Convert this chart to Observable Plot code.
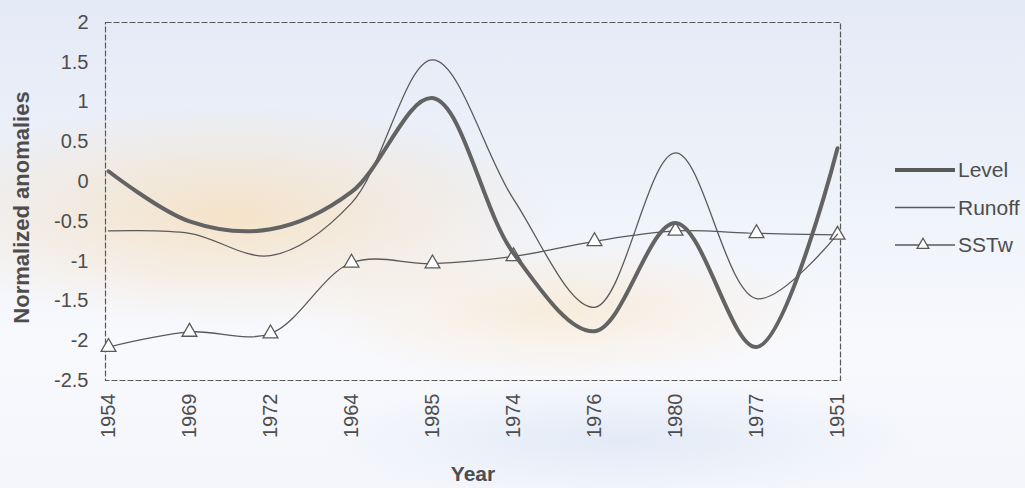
<!DOCTYPE html>
<html>
<head>
<meta charset="utf-8">
<script src="https://cdn.jsdelivr.net/npm/d3@7"></script>
<script src="https://cdn.jsdelivr.net/npm/@observablehq/plot@0.6"></script>
<style>
  html, body { margin: 0; padding: 0; background: #fff; }
  #wrap { position: relative; width: 1025px; height: 488px; overflow: hidden;
    background:
      radial-gradient(ellipse 330px 110px at 230px 215px, rgba(250,214,160,0.55), rgba(250,214,160,0) 100%),
      radial-gradient(ellipse 260px 70px at 560px 310px, rgba(250,222,180,0.45), rgba(250,222,180,0) 100%),
      radial-gradient(ellipse 300px 60px at 620px 440px, rgba(214,226,244,0.6), rgba(214,226,244,0) 100%),
      linear-gradient(180deg, #e4eaf6 0%, #eef2fa 40%, #f8f9fd 70%, #f4f6fb 100%);
  }
  #legend { position: absolute; left: 0; top: 0; }
</style>
</head>
<body>
<div id="wrap"></div>
<script>
const years  = ["1954","1969","1972","1964","1985","1974","1976","1980","1977","1951"];
const level  = [0.13, -0.50, -0.60, -0.13, 1.05, -0.90, -1.88, -0.52, -2.08, 0.42];
const runoff = [-0.62, -0.65, -0.93, -0.27, 1.53, -0.22, -1.58, 0.36, -1.47, -0.66];
const sstw   = [-2.08, -1.89, -1.91, -1.02, -1.03, -0.94, -0.75, -0.62, -0.65, -0.67];
const yTicks = [2, 1.5, 1, 0.5, 0, -0.5, -1, -1.5, -2, -2.5];
const seriesNames = ["Level", "Runoff", "SSTw"];

const rows = years.map((y, i) => ({year: y, level: level[i], runoff: runoff[i], sstw: sstw[i]}));
const ink = "#595959";
const narrow = "'Liberation Sans Narrow', 'Arial Narrow', 'Liberation Sans', Arial, sans-serif";
const regular = "'Liberation Sans', Arial, sans-serif";

const chart = Plot.plot({
  width: 1025,
  height: 488,
  marginLeft: 105,
  marginRight: 185,
  marginTop: 22,
  marginBottom: 108,
  style: {background: "transparent", fontFamily: regular, color: "#4d4d4d"},
  x: {type: "point", domain: years, padding: 0},
  y: {domain: [-2.5, 2]},
  marks: [
    Plot.frame({stroke: "#5a5a5a", strokeDasharray: "6,2", strokeWidth: 1.2}),
    Plot.axisY({ticks: yTicks, tickSize: 0, tickPadding: 17, fontSize: 20,
      tickFormat: d => String(d), label: "Normalized anomalies", labelAnchor: "center",
      labelArrow: "none", labelOffset: 92}),
    Plot.axisX({tickRotate: -90, tickSize: 0, tickPadding: 13, fontSize: 20,
      label: "Year", labelAnchor: "center", labelArrow: "none", labelOffset: 100}),
    Plot.line(rows, {x: "year", y: "sstw", stroke: ink, strokeWidth: 1.3, curve: "catmull-rom"}),
    Plot.dot(rows, {x: "year", y: "sstw", symbol: "triangle", r: 5.5, stroke: ink, strokeWidth: 1.3, fill: "#fff"}),
    Plot.line(rows, {x: "year", y: "runoff", stroke: ink, strokeWidth: 1.3, curve: "catmull-rom"}),
    Plot.line(rows, {x: "year", y: "level", stroke: "#636363", strokeWidth: 4, curve: "catmull-rom"})
  ]
});
document.getElementById("wrap").appendChild(chart);

const svg = d3.select(chart);
svg.selectAll('g[aria-label="y-axis tick label"] text, g[aria-label="x-axis tick label"] text')
  .style("font-family", narrow);
svg.selectAll('g[aria-label="y-axis label"] text')
  .style("font-weight", "bold").style("font-size", "22px").attr("dx", -6);
svg.selectAll('g[aria-label="x-axis label"] text')
  .style("font-weight", "bold").style("font-size", "21px");

// Legend
const lg = d3.select("#wrap").append("svg").attr("id", "legend").attr("width", 1025).attr("height", 488);
const items = lg.selectAll("g").data(seriesNames).join("g")
  .attr("transform", (d, i) => `translate(895, ${170 + i * 37.5})`);
items.append("line").attr("x1", 0).attr("x2", 60).attr("y1", 0).attr("y2", 0)
  .attr("stroke", ink).attr("stroke-width", (d, i) => i === 0 ? 4 : 1.3);
items.filter((d, i) => i === 2).append("path")
  .attr("d", d3.symbol(d3.symbolTriangle, 60)()).attr("transform", "translate(28,0)")
  .attr("fill", "#fff").attr("stroke", ink).attr("stroke-width", 1.3);
items.append("text").attr("x", 63).attr("y", 0).attr("dy", "0.35em")
  .attr("font-size", 21).attr("font-family", regular).attr("fill", "#4d4d4d").text(d => d);
</script>
</body>
</html>
